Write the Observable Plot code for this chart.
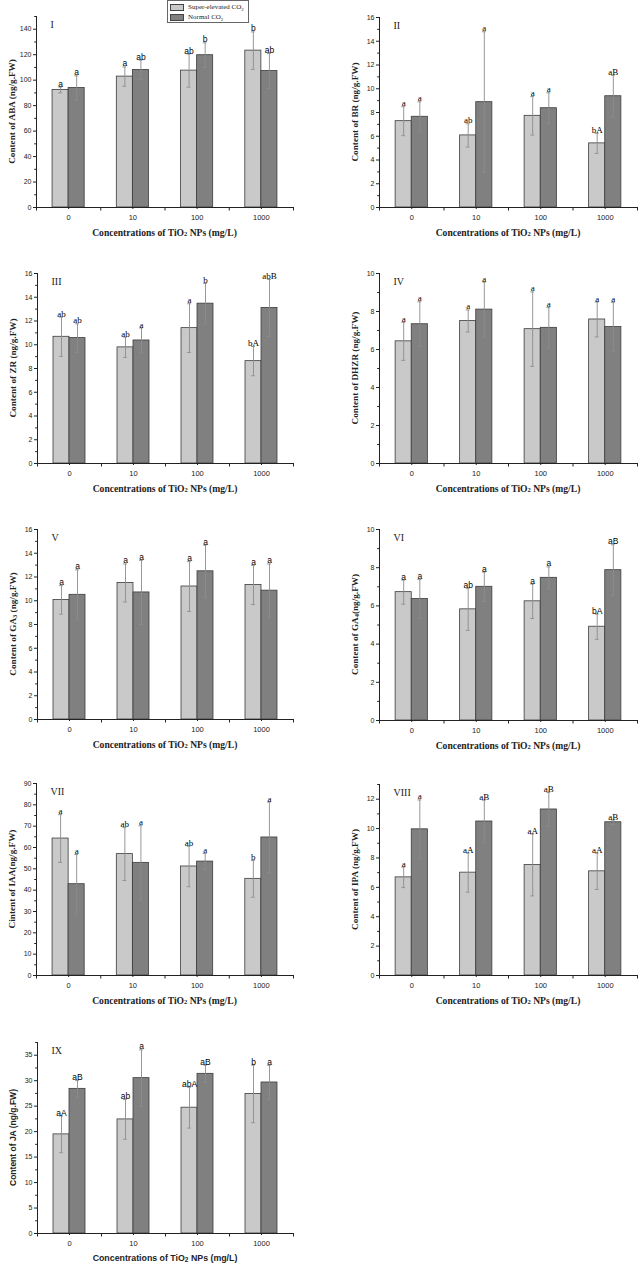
<!DOCTYPE html>
<html>
<head>
<meta charset="utf-8">
<script src="https://cdn.jsdelivr.net/npm/d3@7"></script>
<script src="https://cdn.jsdelivr.net/npm/@observablehq/plot@0.6"></script>
<style>
  html, body { margin: 0; padding: 0; background: #fff; }
  body { width: 640px; height: 1268px; position: relative; overflow: hidden; }
  .panel { position: absolute; }
  .panel svg { display: block; overflow: visible; }
  .legend { position: absolute; left: 167px; top: 0px; width: 82px; height: 23px; border: 1px solid #666; background: #fff;
            font-family: "Liberation Serif", "Times New Roman", serif; font-size: 7px; color: #222; box-sizing: border-box; padding: 2px 0 0 2px; }
  .legend .row { display: flex; align-items: center; height: 9.5px; }
  .legend .sw { display: inline-block; width: 14px; height: 7px; border: 0.8px solid #444; margin-right: 4px; box-sizing: border-box; }
  .legend sub { font-size: 5px; }
</style>
</head>
<body>
<div id="root"></div>
<script>
// ---------------- data ----------------
const concentrations = ["0", "10", "100", "1000"];
const legendLabels = ["Super-elevated CO{2}", "Normal CO{2}"];

// I  ABA
const abaSuper = [92.3, 102.8, 107.5, 123.2];
const abaSuperErr = [2.3, 7.6, 13.0, 14.7];
const abaSuperLetters = ["a", "a", "ab", "b"];
const abaNormal = [93.9, 108.0, 119.6, 107.2];
const abaNormalErr = [9.5, 7.7, 9.7, 13.7];
const abaNormalLetters = ["a", "ab", "b", "ab"];

// II  BR
const brSuper = [7.27, 6.07, 7.72, 5.40];
const brSuperErr = [1.22, 0.98, 1.62, 0.84];
const brSuperLetters = ["a", "ab", "a", "bA"];
const brNormal = [7.64, 8.87, 8.36, 9.37];
const brNormalErr = [1.26, 5.93, 1.30, 1.76];
const brNormalLetters = ["a", "a", "a", "aB"];

// III  ZR
const zrSuper = [10.67, 9.78, 11.40, 8.62];
const zrSuperErr = [1.65, 0.85, 2.05, 1.23];
const zrSuperLetters = ["ab", "ab", "a", "bA"];
const zrNormal = [10.56, 10.36, 13.46, 13.10];
const zrNormalErr = [1.2, 1.05, 1.7, 2.4];
const zrNormalLetters = ["ab", "a", "b", "abB"];

// IV  DHZR
const dhzrSuper = [6.43, 7.50, 7.07, 7.58];
const dhzrSuperErr = [1.0, 0.58, 1.96, 0.92];
const dhzrSuperLetters = ["a", "a", "a", "a"];
const dhzrNormal = [7.33, 8.10, 7.14, 7.18];
const dhzrNormalErr = [1.18, 1.45, 1.06, 1.3];
const dhzrNormalLetters = ["a", "a", "a", "a"];

// V  GA3
const ga3Super = [10.07, 11.50, 11.20, 11.33];
const ga3SuperErr = [1.2, 1.6, 2.1, 1.65];
const ga3SuperLetters = ["a", "a", "a", "a"];
const ga3Normal = [10.50, 10.70, 12.48, 10.85];
const ga3NormalErr = [2.1, 2.7, 2.2, 2.25];
const ga3NormalLetters = ["a", "a", "a", "a"];

// VI  GA4
const ga4Super = [6.72, 5.82, 6.24, 4.91];
const ga4SuperErr = [0.63, 1.1, 0.9, 0.66];
const ga4SuperLetters = ["a", "ab", "a", "bA"];
const ga4Normal = [6.36, 7.00, 7.47, 7.87];
const ga4NormalErr = [1.02, 0.77, 0.57, 1.33];
const ga4NormalLetters = ["a", "a", "a", "aB"];

// VII  IAA
const iaaSuper = [64.2, 56.9, 51.1, 45.3];
const iaaSuperErr = [11.2, 12.4, 9.5, 8.6];
const iaaSuperLetters = ["a", "ab", "ab", "b"];
const iaaNormal = [42.8, 52.8, 53.4, 64.7];
const iaaNormalErr = [13.9, 17.4, 3.75, 16.6];
const iaaNormalLetters = ["a", "a", "a", "a"];

// VIII  IPA
const ipaSuper = [6.68, 7.00, 7.52, 7.09];
const ipaSuperErr = [0.7, 1.33, 2.1, 1.23];
const ipaSuperLetters = ["a", "aA", "aA", "aA"];
const ipaNormal = [9.95, 10.48, 11.30, 10.43];
const ipaNormalErr = [2.0, 1.45, 1.15, 0.15];
const ipaNormalLetters = ["a", "aB", "aB", "aB"];

// IX  JA
const jaSuper = [19.46, 22.40, 24.70, 27.40];
const jaSuperErr = [3.6, 3.9, 4.0, 5.65];
const jaSuperLetters = ["aA", "ab", "abA", "b"];
const jaNormal = [28.40, 30.50, 31.35, 29.65];
const jaNormalErr = [1.63, 5.55, 1.7, 3.37];
const jaNormalLetters = ["aB", "a", "aB", "a"];

const panels = [
  {label: "I",    ytitle: "Content of ABA (ng/g.FW)",  yMax: 150,  step: 20, sup: [abaSuper, abaSuperErr, abaSuperLetters],   nor: [abaNormal, abaNormalErr, abaNormalLetters]},
  {label: "II",   ytitle: "Content of BR (ng/g.FW)",   yMax: 16,   step: 2,  sup: [brSuper, brSuperErr, brSuperLetters],      nor: [brNormal, brNormalErr, brNormalLetters]},
  {label: "III",  ytitle: "Content of ZR (ng/g.FW)",   yMax: 16,   step: 2,  sup: [zrSuper, zrSuperErr, zrSuperLetters],      nor: [zrNormal, zrNormalErr, zrNormalLetters]},
  {label: "IV",   ytitle: "Content of DHZR (ng/g.FW)", yMax: 10,   step: 2,  sup: [dhzrSuper, dhzrSuperErr, dhzrSuperLetters],nor: [dhzrNormal, dhzrNormalErr, dhzrNormalLetters]},
  {label: "V",    ytitle: "Content of GA{3} (ng/g.FW)",yMax: 16,   step: 2,  sup: [ga3Super, ga3SuperErr, ga3SuperLetters],   nor: [ga3Normal, ga3NormalErr, ga3NormalLetters]},
  {label: "VI",   ytitle: "Content of GA{4}(ng/g.FW)", yMax: 10,   step: 2,  sup: [ga4Super, ga4SuperErr, ga4SuperLetters],   nor: [ga4Normal, ga4NormalErr, ga4NormalLetters]},
  {label: "VII",  ytitle: "Cintent of IAA(ng/g.FW)",   yMax: 90,   step: 10, sup: [iaaSuper, iaaSuperErr, iaaSuperLetters],   nor: [iaaNormal, iaaNormalErr, iaaNormalLetters]},
  {label: "VIII", ytitle: "Content of IPA (ng/g.FW)",  yMax: 13,   step: 2,  sup: [ipaSuper, ipaSuperErr, ipaSuperLetters],   nor: [ipaNormal, ipaNormalErr, ipaNormalLetters]},
  {label: "IX",   ytitle: "Content of JA (ng/g.FW)",   yMax: 37.5, step: 5,  sup: [jaSuper, jaSuperErr, jaSuperLetters],      nor: [jaNormal, jaNormalErr, jaNormalLetters]}
];
const xTitle = "Concentrations of TiO{2} NPs (mg/L)";

// ---------------- layout & style ----------------
const layout = [
  {left: 0,   top: 0,    height: 250, mL: 36, mR: 27, mT: 16, mB: 43, letterSans: true,  ytSans: false},
  {left: 320, top: 0,    height: 250, mL: 59, mR: 3,  mT: 17, mB: 43, letterSans: false, ytSans: false},
  {left: 0,   top: 250,  height: 250, mL: 37, mR: 27, mT: 23, mB: 37, letterSans: false, ytSans: false},
  {left: 320, top: 250,  height: 250, mL: 59, mR: 3,  mT: 23, mB: 37, letterSans: false, ytSans: false},
  {left: 0,   top: 500,  height: 250, mL: 37, mR: 27, mT: 29, mB: 31, letterSans: true,  ytSans: false},
  {left: 320, top: 500,  height: 250, mL: 59, mR: 3,  mT: 29, mB: 30, letterSans: true,  ytSans: false},
  {left: 0,   top: 750,  height: 260, mL: 36, mR: 27, mT: 33, mB: 35, letterSans: false, ytSans: false},
  {left: 320, top: 750,  height: 260, mL: 59, mR: 3,  mT: 34, mB: 35, letterSans: false, ytSans: false},
  {left: 0,   top: 1010, height: 258, mL: 37, mR: 27, mT: 32, mB: 35, letterSans: true,  ytSans: true}
];
const LIGHT = "rgb(201,201,201)";
const DARK = "rgb(128,128,128)";
const EDGE = "#3c3c3c";
const ERR = "#8c8c8c";
const SANS = "'Liberation Sans', Arial, sans-serif";
const SERIF = "'Liberation Serif', 'Times New Roman', serif";
const barW = 0.25;
const capW = 0.03;

function addRichText(sel, str, subSize) {
  const parts = str.split(/(\{[^}]*\})/);
  for (const p of parts) {
    if (!p) continue;
    if (p.startsWith("{")) {
      sel.append("tspan").attr("font-size", subSize).attr("baseline-shift", "-25%").text(p.slice(1, -1));
    } else {
      sel.append("tspan").text(p);
    }
  }
}

const root = document.getElementById("root");

panels.forEach((p, k) => {
  const L = layout[k];
  const rows = [];
  [p.sup, p.nor].forEach((ser, s) => {
    ser[0].forEach((v, i) => rows.push({i, s, v, e: ser[1][i], t: ser[2][i]}));
  });
  const center = d => d.i + (d.s ? barW / 2 : -barW / 2);
  const majors = d3.range(0, p.yMax + 1e-9, p.step);
  const minors = d3.range(0, p.yMax + 1e-9, p.step / 2).filter(v => !majors.some(m => Math.abs(m - v) < 1e-9));
  const letterFont = L.letterSans ? SANS : SERIF;
  const letterSize = L.letterSans ? 8.5 : 9;

  const svg = Plot.plot({
    width: 320,
    height: L.height,
    marginLeft: L.mL, marginRight: L.mR, marginTop: L.mT, marginBottom: L.mB,
    style: {fontFamily: SANS, fontSize: "7px", background: "transparent", color: "#222"},
    x: {domain: [-0.5, 3.5], axis: null},
    y: {domain: [0, p.yMax], axis: null},
    marks: [
      Plot.rectY(rows.filter(d => d.s === 0), {x1: d => d.i - barW, x2: d => d.i, y: "v", fill: LIGHT, stroke: EDGE, strokeWidth: 0.8}),
      Plot.rectY(rows.filter(d => d.s === 1), {x1: d => d.i, x2: d => d.i + barW, y: "v", fill: DARK, stroke: EDGE, strokeWidth: 0.8}),
      Plot.ruleX(rows, {x: center, y1: d => d.v - d.e, y2: d => d.v + d.e, stroke: ERR, strokeWidth: 0.9}),
      Plot.ruleY(rows, {y: d => d.v + d.e, x1: d => center(d) - capW, x2: d => center(d) + capW, stroke: ERR, strokeWidth: 0.9}),
      Plot.ruleY(rows, {y: d => d.v - d.e, x1: d => center(d) - capW, x2: d => center(d) + capW, stroke: ERR, strokeWidth: 0.9}),
      Plot.text(rows, {x: center, y: d => d.v + d.e, text: "t", lineAnchor: "bottom", dy: -0.5,
                       fontFamily: letterFont, fontSize: letterSize, fill: "black"}),
      Plot.ruleX([-0.5], {stroke: "#222", strokeWidth: 1}),
      Plot.ruleY([0], {stroke: "#222", strokeWidth: 1}),
      Plot.axisY({ticks: majors, tickSize: 3, tickPadding: 2, tickFormat: d => d3.format("")(d), label: null,
                  fontFamily: L.ytSans ? SANS : SANS, fontSize: 7, stroke: "#222", fill: "#222"}),
      Plot.axisY({ticks: minors, tickSize: 1.8, label: null, stroke: "#222", fill: "none"}),
      Plot.axisX({ticks: [0, 1, 2, 3], tickSize: 2, tickPadding: 5, tickFormat: i => concentrations[i], label: null,
                  fontFamily: SANS, fontSize: 7.5, stroke: "#222", fill: "#222"}),
      Plot.axisX({ticks: [-0.5, 0.5, 1.5, 2.5, 3.5], tickSize: 3.5, label: null, stroke: "#222", fill: "none"}),
      Plot.text([p.label], {frameAnchor: "top-left", dx: 14, dy: 4, text: d => d, fontFamily: SERIF, fontSize: 10, fill: "#222"})
    ]
  });

  const s = d3.select(svg);
  const plotMidY = (L.mT + (L.height - L.mB)) / 2;
  const plotMidX = (L.mL + (320 - L.mR)) / 2;
  const yt = s.append("text")
    .attr("transform", `translate(${L.mL - 24},${plotMidY}) rotate(-90)`)
    .attr("text-anchor", "middle").attr("dominant-baseline", "central")
    .attr("font-family", L.ytSans ? SANS : SERIF).attr("font-weight", "bold").attr("font-size", L.ytSans ? 8.5 : 9.2)
    .attr("fill", "#222");
  addRichText(yt, p.ytitle, 6.5);
  const xt = s.append("text")
    .attr("x", plotMidX).attr("y", L.height - L.mB + 25)
    .attr("text-anchor", "middle").attr("dominant-baseline", "central")
    .attr("font-family", L.ytSans ? SANS : SERIF).attr("font-weight", "bold").attr("font-size", L.ytSans ? 8.8 : 9.6)
    .attr("fill", "#222");
  addRichText(xt, xTitle, 6.5);

  const div = document.createElement("div");
  div.className = "panel";
  div.style.left = L.left + "px";
  div.style.top = L.top + "px";
  div.style.width = "320px";
  div.appendChild(svg);
  root.appendChild(div);
});

// legend
const legend = document.createElement("div");
legend.className = "legend";
legendLabels.forEach((lab, s) => {
  const row = document.createElement("div");
  row.className = "row";
  const sw = document.createElement("span");
  sw.className = "sw";
  sw.style.background = s ? DARK : LIGHT;
  row.appendChild(sw);
  const txt = document.createElement("span");
  txt.innerHTML = lab.replace(/\{([^}]*)\}/g, "<sub>$1</sub>");
  row.appendChild(txt);
  legend.appendChild(row);
});
document.body.appendChild(legend);
</script>
</body>
</html>
